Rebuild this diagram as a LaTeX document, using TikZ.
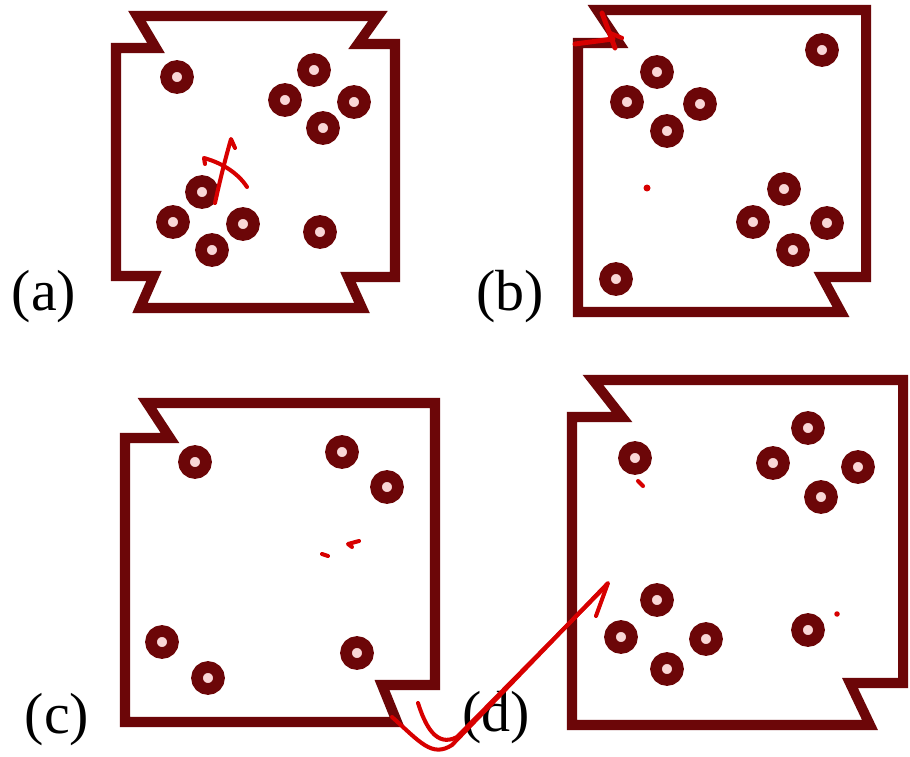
\documentclass[tikz,border=0pt]{standalone}
\usepackage{fontspec}
\setmainfont{Liberation Serif}
\definecolor{dred}{RGB}{108,6,8}
\definecolor{ringfill}{RGB}{250,215,215}
\definecolor{penred}{RGB}{215,0,0}
\begin{document}
\begin{tikzpicture}[x=0.02cm,y=-0.02cm,
  outline/.style={draw=dred,line width=5.7pt,line join=miter},
  ring/.style={draw=dred,fill=ringfill,line width=6.6pt},
  ink/.style={draw=penred,line width=2.3pt,line cap=round,line join=round},
  lab/.style={font=\fontsize{33}{36}\selectfont,inner sep=0pt}]
\useasboundingbox (0,0) rectangle (910,757);
\fill[white] (0,0) rectangle (910,757);

% ---------- panel (a)
\draw[outline] (137,16) -- (378,16) -- (358,44) -- (395,44) -- (395,277) -- (348,277) -- (362,308) -- (140,308) -- (154,276) -- (116,276) -- (116,48) -- (156,48) -- cycle;
\foreach \p in {(177,77),(314,70),(285,100),(354,102),(323,128),(202,192),(173,222),(243,224),(212,250),(320,232)}
  \draw[ring] \p circle (0.22cm);
\node[lab] (la) at (44,297) {(a)};
\draw[ink] (215,203) .. controls (220,180) and (225,160) .. (231,139) -- (235,148);
\draw[ink] (205,164) -- (204,158) .. controls (222,163) and (238,173) .. (247,187);

% ---------- panel (b)
\draw[outline] (597,10) -- (866,10) -- (866,277) -- (822,277) -- (841,312) -- (578,312) -- (578,43) -- (619,43) -- cycle;
\foreach \p in {(822,50),(657,72),(627,102),(700,104),(667,131),(784,189),(753,222),(827,223),(793,250),(616,279)}
  \draw[ring] \p circle (0.22cm);
\node[lab] (lb) at (510,297) {(b)};
\draw[ink,line width=2.8pt] (575,44) -- (613,39);
\draw[ink,line width=2.8pt] (602,13) -- (615,48);
\draw[ink,line width=2.4pt] (610,33) -- (622,38);
\fill[penred] (647,188) circle (0.07cm);

% ---------- panel (c)
\draw[outline] (147,403) -- (435,403) -- (435,685) -- (382,685) -- (397,722) -- (125,722) -- (125,438) -- (170,438) -- cycle;
\foreach \p in {(195,462),(342,452),(387,487),(162,642),(208,678),(357,653)}
  \draw[ring] \p circle (0.22cm);
\node[lab] (lc) at (57,720) {(c)};
\draw[ink] (322,554) -- (328,556);
\draw[ink] (359,541) -- (348,544) -- (352,547);

% ---------- panel (d)
\draw[outline] (593,380) -- (903,380) -- (903,683) -- (850,683) -- (870,725) -- (572,725) -- (572,417) -- (622,417) -- cycle;
\foreach \p in {(635,458),(808,428),(773,463),(858,467),(821,497),(657,600),(621,637),(706,639),(667,669),(808,630)}
  \draw[ring] \p circle (0.22cm);
\node[lab] (ld) at (496,718) {(d)};
\draw[ink] (638,481) -- (643,486);
\fill[penred] (837,614) circle (0.055cm);

% ---------- big red stroke
\draw[ink] (392,717) .. controls (420,742) and (432,758) .. (452,745) -- (608,583) -- (596,616);
\draw[ink] (418,703) .. controls (425,725) and (436,748) .. (457,737) -- (600,592);
\end{tikzpicture}
\end{document}
